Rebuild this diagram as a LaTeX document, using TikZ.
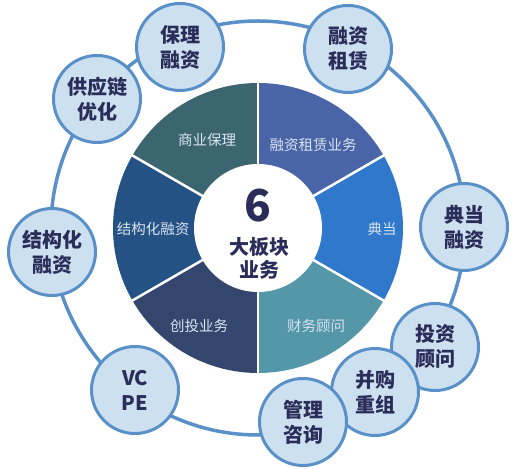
\documentclass[tikz,border=0pt]{standalone}
\usepackage{fontspec}
\setmainfont{Noto Sans CJK SC}
\definecolor{segA}{HTML}{3B6670}
\definecolor{segB}{HTML}{4A64A8}
\definecolor{segC}{HTML}{2F78CB}
\definecolor{segD}{HTML}{5397A8}
\definecolor{segE}{HTML}{34466E}
\definecolor{segF}{HTML}{255284}
\definecolor{satfill}{HTML}{CDE0EF}
\definecolor{satline}{HTML}{5A90C8}
\definecolor{navy}{HTML}{2A2D5A}
\definecolor{seglabel}{HTML}{D8E4F0}
\begin{document}
\begin{tikzpicture}[x=1pt,y=1pt,
  sat/.style={circle,minimum size=87pt,inner sep=0pt,fill=satfill,draw=satline,line width=3pt,
    text=navy,font=\fontsize{20}{25}\selectfont\bfseries,align=center},
  seglab/.style={text=seglabel,font=\fontsize{14.5}{17}\selectfont,inner sep=0pt}]
\useasboundingbox (0,0) rectangle (516,468);
\coordinate (C) at (258,240);
% ring
\draw[satline,line width=3.5pt] (C) circle[radius=207];
% segments
\begin{scope}[shift={(258,240)}]
\foreach \a/\b/\c in {90/150/segA,30/90/segB,-30/30/segC,-90/-30/segD,-150/-90/segE,150/210/segF}{
  \fill[\c] (0,0) -- (\a:145) arc[start angle=\a,end angle=\b,radius=145] -- cycle;
}
\end{scope}
% segment labels
\node[seglab] (l1) at (207,328) {商业保理};
\node[seglab] (l2) at (313,323) {融资租赁业务};
\node[seglab] (l3) at (382,239) {典当};
\node[seglab] (l4) at (316,142) {财务顾问};
\node[seglab] (l5) at (199,142) {创投业务};
\node[seglab] (l6) at (153,239) {结构化融资};
\begin{scope}[shift={(258,240)}]
\foreach \a in {30,90,150,210,270,330}{
  \draw[white,line width=2.5pt] (0,0) -- (\a:147);
}
\fill[white] (0,0) circle[radius=64];
\end{scope}
% center text
\node[text=navy,font=\fontsize{44}{44}\selectfont\bfseries,inner sep=0pt] (six) at (258,262) {6};
\node[text=navy,font=\fontsize{20}{23}\selectfont\bfseries,align=center,inner sep=0pt] (ctr) at (259,210) {大板块\\业务};
% satellites
\node[sat] (s1) at (180,421) {保理\\融资};
\node[sat] (s2) at (97,369) {供应链\\优化};
\node[sat] (s3) at (348,419) {融资\\租赁};
\node[sat] (s4) at (464,241) {典当\\融资};
\node[sat] (s5) at (52,216) {结构化\\融资};
\node[sat] (s6) at (135,78) {VC\\PE};
\node[sat] (s9) at (435,121) {投资\\顾问};
\node[sat] (s8) at (375,76) {并购\\重组};
\node[sat] (s7) at (303,46) {管理\\咨询};
\end{tikzpicture}
\end{document}
